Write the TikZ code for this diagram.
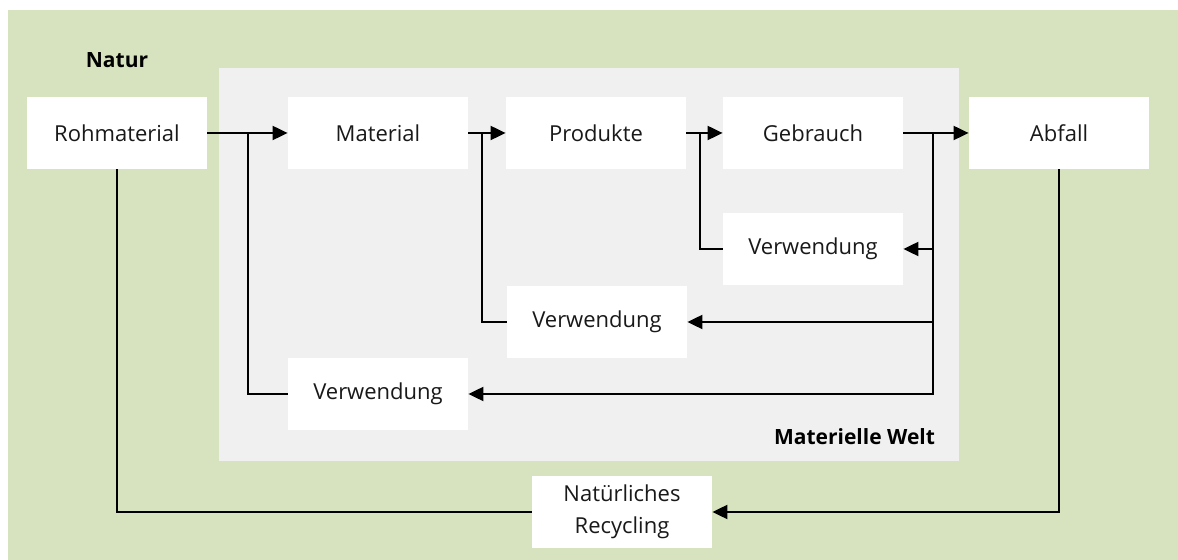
\documentclass[tikz,border=0pt]{standalone}
\usepackage{fontspec}
\setmainfont{Open Sans}
\usepackage{tikz}
\usetikzlibrary{arrows.meta}
\usepackage{xcolor}

\definecolor{naturgreen}{RGB}{215,227,190}
\definecolor{weltgrey}{RGB}{240,240,240}
\definecolor{textdark}{RGB}{25,25,25}

\tikzset{
  stage/.style={rectangle, fill=white, minimum width=90pt, minimum height=36pt,
    inner sep=0pt, font=\fontsize{11}{16}\selectfont, text=textdark},
  flow/.style={line width=1pt, draw=black},
  flowarrow/.style={flow, -{Triangle[length=7.5pt, width=7pt]}},
  heading/.style={font=\bfseries\fontsize{10.5}{12}\selectfont, text=black}
}

\begin{document}
\begin{tikzpicture}[x=0.5pt, y=-0.5pt]
\useasboundingbox (0,0) rectangle (1178,560);

% Natur and Materielle Welt areas
\fill[naturgreen] (8,10) rectangle (1178,560);
\fill[weltgrey] (219,68) rectangle (959,461);
\node[heading] (natur) at (117,60) {Natur};
\node[heading, anchor=east] (welt) at (942,437) {Materielle Welt};

% Main chain
\node[stage] (roh) at (117,133) {Rohmaterial};
\node[stage] (mat) at (378,133) {Material};
\node[stage] (prod) at (596,133) {Produkte};
\node[stage] (gebr) at (813,133) {Gebrauch};
\node[stage] (abf) at (1059,133) {Abfall};

% Reuse loops
\node[stage] (verw1) at (813,249) {Verwendung};
\node[stage] (verw2) at (597,322) {Verwendung};
\node[stage] (verw3) at (378,394) {Verwendung};

% Natural recycling
\node[stage, align=center] (recyc) at (622,512) {Natürliches\\Recycling};

% Junctions on the main line
\coordinate (j1) at (248,133);
\coordinate (j2) at (482,133);
\coordinate (j3) at (700,133);
\coordinate (j4) at (933,133);

% Connections
\draw[flowarrow] (roh) -- (mat);
\draw[flowarrow] (mat) -- (prod);
\draw[flowarrow] (prod) -- (gebr);
\draw[flowarrow] (gebr) -- (abf);

\draw[flowarrow] (j4) |- (verw1.east);
\draw[flowarrow] (j4) |- (verw2.east);
\draw[flowarrow] (j4) |- (verw3.east);

\draw[flow] (verw1.west) -| (j3);
\draw[flow] (verw2.west) -| (j2);
\draw[flow] (verw3.west) -| (j1);

\draw[flow] (roh.south) |- (recyc.west);
\draw[flowarrow] (abf.south) |- (recyc.east);

\end{tikzpicture}
\end{document}
